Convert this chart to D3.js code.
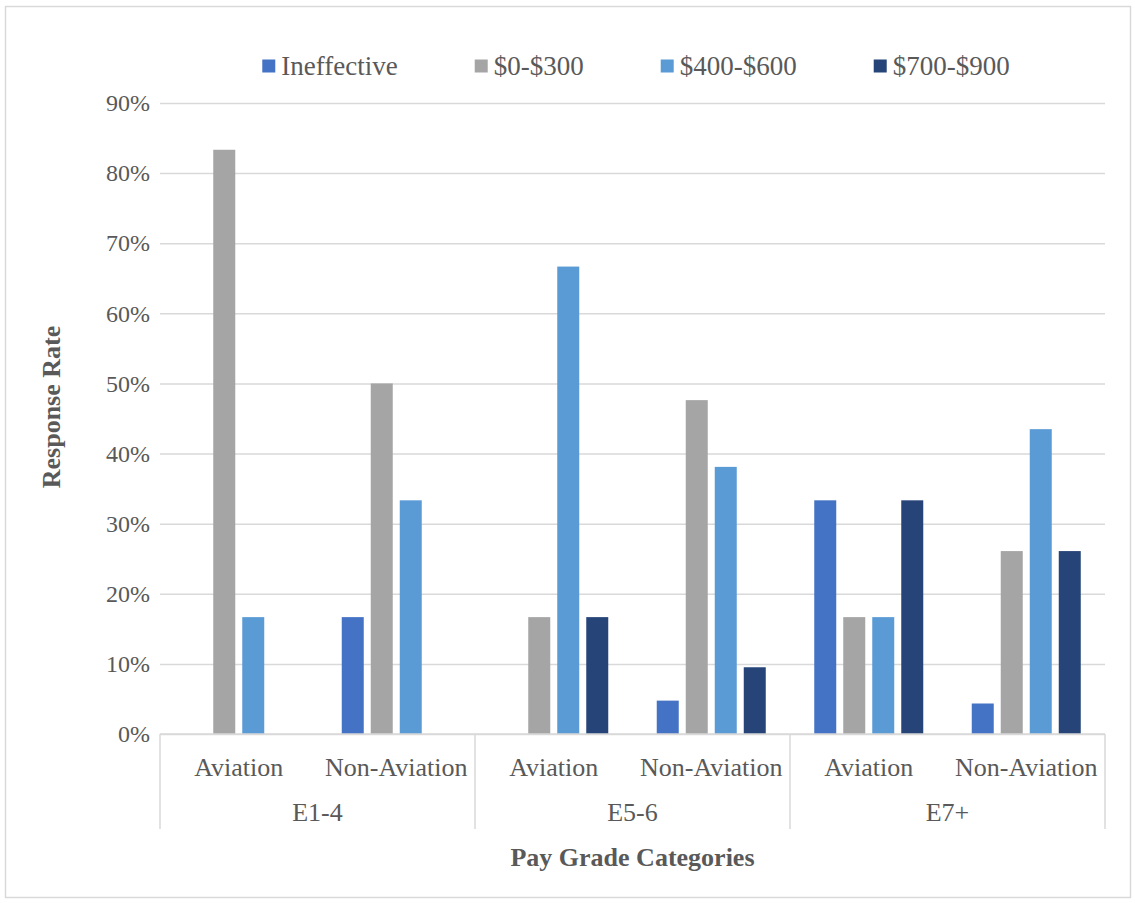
<!DOCTYPE html>
<html>
<head>
<meta charset="utf-8">
<script src="https://cdn.jsdelivr.net/npm/d3@7"></script>
<style>
  html, body { margin: 0; padding: 0; background: #ffffff; }
  svg { display: block; }
  svg text { font-family: "Liberation Serif", "Times New Roman", serif !important; fill: #595959; }
</style>
</head>
<body>
<svg id="chart" width="1135" height="903"></svg>
<script>
// Pay grade groups and the two occupational sub-groups inside each
const groups = ["E1-4", "E5-6", "E7+"];
const subgroups = ["Aviation", "Non-Aviation"];

// Response categories (series) and their colours
const series = ["Ineffective", "$0-$300", "$400-$600", "$700-$900"];
const colors = ["#4472C4", "#A5A5A5", "#5B9BD5", "#264478"];

// Response rate per series, in order: E1-4 Av, E1-4 Non, E5-6 Av, E5-6 Non, E7+ Av, E7+ Non
const ineffective = [0, 0.1667, 0, 0.0476, 0.3333, 0.0435];
const pay0to300   = [0.8333, 0.5, 0.1667, 0.4762, 0.1667, 0.2609];
const pay400to600 = [0.1667, 0.3333, 0.6667, 0.3810, 0.1667, 0.4348];
const pay700to900 = [0, 0, 0.1667, 0.0952, 0.3333, 0.2609];

const yTicks = [0, 0.1, 0.2, 0.3, 0.4, 0.5, 0.6, 0.7, 0.8, 0.9];

const seriesValues = [ineffective, pay0to300, pay400to600, pay700to900];

const FONT = "'Liberation Serif', 'Times New Roman', serif";

// Flatten group/sub-group into the six category slots
const slots = [];
groups.forEach(g => subgroups.forEach(s => slots.push({ group: g, sub: s, key: g + "|" + s })));

const svg = d3.select("#chart");

// Outer border of the chart area
svg.append("rect")
  .attr("x", 5.5).attr("y", 6.5)
  .attr("width", 1125).attr("height", 891)
  .attr("fill", "#ffffff")
  .attr("stroke", "#d9d9d9").attr("stroke-width", 1.5);

const plot = { left: 160, right: 1105, top: 103, bottom: 734 };

const y = d3.scaleLinear().domain([0, 0.9]).range([plot.bottom, plot.top]);
const x = d3.scaleBand().domain(slots.map(d => d.key)).range([plot.left, plot.right]).padding(0);
const xInner = d3.scaleBand().domain(series).range([0, x.bandwidth()])
  .paddingInner(0.2414).paddingOuter(0.836);

// Horizontal gridlines and percentage labels via a left axis
const yAxis = d3.axisLeft(y)
  .tickValues(yTicks)
  .tickFormat(d3.format(".0%"))
  .tickSize(-(plot.right - plot.left))
  .tickPadding(10);

const yAxisG = svg.append("g")
  .attr("transform", `translate(${plot.left},0)`)
  .call(yAxis)
  .attr("font-family", FONT);
yAxisG.select(".domain").remove();
yAxisG.selectAll(".tick line").attr("stroke", "#d9d9d9").attr("stroke-width", 1.5);
yAxisG.selectAll(".tick text")
  .attr("font-size", 24)
  .attr("fill", "#595959");

// Bars
const barG = svg.append("g");
seriesValues.forEach((vals, si) => {
  barG.selectAll(null)
    .data(slots.map((s, i) => ({ slot: s, v: vals[i] })))
    .join("rect")
    .attr("x", d => x(d.slot.key) + xInner(series[si]))
    .attr("y", d => y(d.v))
    .attr("width", xInner.bandwidth())
    .attr("height", d => y(0) - y(d.v))
    .attr("fill", colors[si]);
});

// Category axis: baseline, separators and two-level labels
const axisColor = "#d9d9d9";
svg.append("line")
  .attr("x1", plot.left).attr("x2", plot.right)
  .attr("y1", plot.bottom).attr("y2", plot.bottom)
  .attr("stroke", axisColor).attr("stroke-width", 1.5);

const groupScale = d3.scaleBand().domain(groups).range([plot.left, plot.right]);
const separators = groups.map(g => groupScale(g)).concat([plot.right]);
svg.selectAll(".sep")
  .data(separators)
  .join("line")
  .attr("class", "sep")
  .attr("x1", d => d).attr("x2", d => d)
  .attr("y1", plot.bottom).attr("y2", 829)
  .attr("stroke", axisColor).attr("stroke-width", 1.5);

svg.selectAll(".sublabel")
  .data(slots)
  .join("text")
  .attr("class", "sublabel")
  .attr("x", d => x(d.key) + x.bandwidth() / 2)
  .attr("y", 776)
  .attr("text-anchor", "middle")
  .attr("font-family", FONT)
  .attr("font-size", 26)
  .text(d => d.sub);

svg.selectAll(".grouplabel")
  .data(groups)
  .join("text")
  .attr("class", "grouplabel")
  .attr("x", d => groupScale(d) + groupScale.bandwidth() / 2)
  .attr("y", 821)
  .attr("text-anchor", "middle")
  .attr("font-family", FONT)
  .attr("font-size", 26)
  .text(d => d);

// Axis titles
svg.append("text")
  .attr("x", (plot.left + plot.right) / 2)
  .attr("y", 866)
  .attr("text-anchor", "middle")
  .attr("font-family", FONT)
  .attr("font-size", 26)
  .attr("font-weight", "bold")
  .text("Pay Grade Categories");

svg.append("text")
  .attr("transform", "translate(60,407) rotate(-90)")
  .attr("text-anchor", "middle")
  .attr("font-family", FONT)
  .attr("font-size", 26)
  .attr("font-weight", "bold")
  .text("Response Rate");

// Legend across the top, centred over the plot
const legend = svg.append("g");
const items = legend.selectAll("g")
  .data(series)
  .join("g");
items.append("rect")
  .attr("width", 13).attr("height", 13)
  .attr("y", -6.5)
  .attr("fill", (d, i) => colors[i]);
items.append("text")
  .attr("x", 19)
  .attr("y", 0)
  .attr("dy", "0.35em")
  .attr("font-family", FONT)
  .attr("font-size", 27)
  .text(d => d);

const gap = 77;
let cursor = 0;
const widths = [];
items.each(function () {
  const w = 19 + d3.select(this).select("text").node().getComputedTextLength();
  widths.push(w);
});
const total = d3.sum(widths) + gap * (widths.length - 1);
const startX = 636 - total / 2;
items.attr("transform", (d, i) => {
  const tx = startX + cursor;
  cursor += widths[i] + gap;
  return `translate(${tx},66)`;
});
</script>
</body>
</html>
